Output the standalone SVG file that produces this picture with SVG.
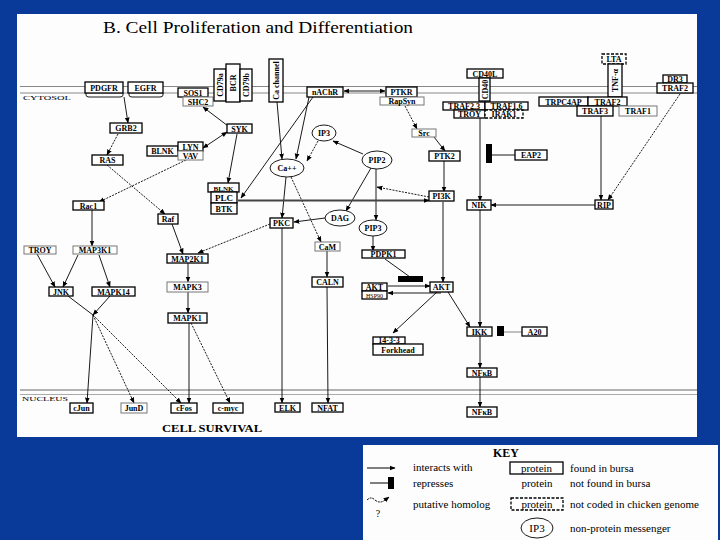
<svg xmlns="http://www.w3.org/2000/svg" width="720" height="540" viewBox="0 0 720 540">
<defs>
<marker id="ah" viewBox="0 0 10 10" refX="9" refY="5" markerWidth="6" markerHeight="6" markerUnits="userSpaceOnUse" orient="auto-start-reverse"><path d="M0,1 L10,5 L0,9 z" fill="#000"/></marker>
<style>
.n rect{fill:#fff;stroke:#000;stroke-width:1.3}
.n ellipse{fill:#fff;stroke:#000;stroke-width:0.9}
.lt rect{stroke:#777;stroke-width:1}
.dsh rect{stroke-dasharray:3 1.5}
text{font-family:"Liberation Serif","Times New Roman",serif;fill:#000}
.t{font-size:8px;text-anchor:middle;font-weight:bold}
.s{font-size:6px;text-anchor:middle}
.k{font-size:11px}
#connectors line,#connectors path{stroke:#000;stroke-width:0.9;fill:none}
#connectors .a{marker-end:url(#ah)}
#connectors .b{marker-start:url(#ah);marker-end:url(#ah)}
#connectors .d{stroke-dasharray:2 1.2}
.bar{fill:#000}
</style>
</defs>
<rect x="0" y="0" width="720" height="540" fill="#0a3a99"/>
<rect x="17" y="14" width="680" height="423" fill="#fdfdfd"/>
<text x="103" y="33" font-size="17" textLength="310" lengthAdjust="spacingAndGlyphs">B. Cell Proliferation and Differentiation</text>
<g id="membranes" stroke="#888" stroke-width="1">
<line x1="20" y1="86.5" x2="697" y2="86.5"/>
<line x1="20" y1="93" x2="697" y2="93"/>
<line x1="20" y1="390" x2="697" y2="390" stroke="#666"/>
<line x1="20" y1="394.5" x2="697" y2="394.5" stroke="#aaa"/>
</g>
<text x="23" y="100" font-size="7" textLength="48" lengthAdjust="spacingAndGlyphs">CYTOSOL</text>
<text x="22" y="401" font-size="7" textLength="46" lengthAdjust="spacingAndGlyphs">NUCLEUS</text>
<text x="162" y="432" font-size="10" font-weight="bold" textLength="100" lengthAdjust="spacingAndGlyphs">CELL SURVIVAL</text>

<g id="connectors">
<path d="M86,93 v2 q0,2 3,2 h31 q3,0 3,-2 v-2 M129,93 v2 q0,2 3,2 h28 q3,0 3,-2 v-2"/>
<line class="a" x1="124" y1="97" x2="128" y2="123"/>
<line class="a d" x1="118" y1="134" x2="107" y2="155"/>
<line class="a" x1="228" y1="126" x2="203" y2="107"/>
<line class="b" x1="203" y1="148" x2="227" y2="132"/>
<line class="a" x1="237" y1="134" x2="228" y2="183"/>
<line class="a d" x1="186" y1="160" x2="99" y2="202"/>
<line class="a d" x1="107" y1="165" x2="165" y2="214"/>
<line class="a" x1="92" y1="210" x2="92" y2="246"/>
<line class="a" x1="172" y1="224" x2="183" y2="254"/>
<line class="a d" x1="270" y1="224" x2="198" y2="253"/>
<line class="a" x1="37" y1="254" x2="55" y2="287"/>
<line class="a" x1="78" y1="255" x2="63" y2="287"/>
<line class="a" x1="99" y1="255" x2="110" y2="287"/>
<line class="a" x1="188" y1="263" x2="188" y2="282"/>
<line class="a" x1="188" y1="292" x2="188" y2="313"/>
<line x1="68" y1="296" x2="93" y2="315"/>
<line class="a" x1="110" y1="296" x2="93" y2="315"/>
<line class="a" x1="93" y1="315" x2="87" y2="403"/>
<line class="a d" x1="93" y1="315" x2="134" y2="403"/>
<line class="a d" x1="93" y1="315" x2="181" y2="403"/>
<line class="a" x1="189" y1="323" x2="189" y2="403"/>
<line class="a d" x1="191" y1="323" x2="230" y2="403"/>
<line class="a" x1="282" y1="228" x2="282" y2="403"/>
<line class="a" x1="327" y1="287" x2="328" y2="403"/>
<line class="a" x1="327" y1="251" x2="327" y2="277"/>
<line class="a" x1="286" y1="177" x2="282" y2="218"/>
<line class="a d" x1="291" y1="177" x2="321" y2="242"/>
<line class="a" x1="325" y1="218" x2="294" y2="222"/>
<line class="a" x1="371" y1="168" x2="346" y2="211"/>
<line class="a" x1="376" y1="169" x2="376" y2="220"/>
<line class="a" x1="373" y1="236" x2="373" y2="251"/>
<line class="a" x1="363" y1="154" x2="333" y2="141"/>
<line class="a d" x1="318" y1="141" x2="307" y2="161"/>
<line class="a d" x1="429" y1="197" x2="377" y2="187"/>
<line class="a" x1="277" y1="102" x2="282" y2="159"/>
<line class="a" x1="309" y1="97" x2="296" y2="159"/>
<line class="a" x1="313" y1="97" x2="241" y2="198"/>
<line class="a" x1="238" y1="200.5" x2="429" y2="200.5" style="stroke-width:2;stroke:#444"/>
<line class="b" x1="344" y1="91" x2="385" y2="91"/>
<line class="a d" x1="405" y1="106" x2="417" y2="129"/>
<line class="a" x1="434" y1="137" x2="445" y2="151"/>
<line class="a" x1="444" y1="161" x2="444" y2="192"/>
<line class="a" x1="443" y1="202" x2="443" y2="282"/>
<line class="a" x1="480" y1="118" x2="480" y2="201"/>
<line class="a" x1="595" y1="205" x2="491" y2="205"/>
<line class="a" x1="601" y1="116" x2="601" y2="200"/>
<line class="a d" x1="680" y1="94" x2="608" y2="200"/>
<line x1="515" y1="155" x2="492" y2="155"/>
<rect class="bar" x="486" y="144" width="6" height="19"/>
<line class="a" x1="437" y1="292" x2="393" y2="333"/>
<line class="a" x1="448" y1="292" x2="470" y2="327"/>
<line class="a" x1="480" y1="210" x2="480" y2="327"/>
<line class="a" x1="480" y1="336" x2="480" y2="368"/>
<line class="a" x1="480" y1="377" x2="480" y2="407"/>
<line x1="504" y1="332" x2="522" y2="332" style="stroke:#777"/>
<rect class="bar" x="497" y="326" width="7" height="10"/>
<line x1="385" y1="259" x2="410" y2="277"/>
<rect class="bar" x="398" y="276" width="25" height="6"/>
<line class="a" x1="388" y1="286" x2="430" y2="286"/>
<line class="a" x1="441" y1="293" x2="388" y2="293"/>
</g>

<g id="PDGFR" class="n"><rect x="85" y="82" width="38" height="11"/><text class="t" x="104" y="90.5">PDGFR</text></g>
<g id="EGFR" class="n"><rect x="128" y="82" width="35" height="11"/><text class="t" x="145.5" y="90.5">EGFR</text></g>
<g id="SOS1" class="n"><rect x="178" y="88" width="30" height="9"/><text class="t" x="193" y="95.5">SOS1</text></g>
<g id="SHC2" class="n lt"><rect x="183" y="97" width="30" height="9"/><text class="t" x="198" y="104.5">SHC2</text></g>
<g id="CD79a" class="n"><rect x="214" y="69" width="12" height="32"/><text class="t" transform="translate(223,85) rotate(-90)">CD79a</text></g>
<g id="BCR" class="n"><rect x="226" y="64" width="14" height="38"/><text class="t" transform="translate(236,83) rotate(-90)">BCR</text></g>
<g id="CD79b" class="n"><rect x="240" y="69" width="12" height="32"/><text class="t" transform="translate(249,85) rotate(-90)">CD79b</text></g>
<g id="Cachannel" class="n"><rect x="269" y="59" width="14" height="43"/><text class="t" transform="translate(279,80.5) rotate(-90)">Ca channel</text></g>
<g id="nAChR" class="n"><rect x="307" y="87" width="36" height="10"/><text class="t" x="325" y="95">nAChR</text></g>
<g id="PTKR" class="n"><rect x="386" y="87" width="31" height="10"/><text class="t" x="401.5" y="95">PTKR</text></g>
<g id="RapSyn" class="n lt"><rect x="380" y="97" width="44" height="8"/><text class="t" x="402" y="104">RapSyn</text></g>
<g id="CD40L" class="n"><rect x="467" y="69" width="36" height="9"/><text class="t" x="485" y="76.5">CD40L</text></g>
<g id="CD40" class="n"><rect x="479" y="78" width="11" height="23"/><text class="t" transform="translate(487.5,89.5) rotate(-90)">CD40</text></g>
<g id="TRAF23" class="n"><rect x="443" y="102" width="42" height="8"/><text class="t" x="464" y="108.5">TRAF2,3</text></g>
<g id="TRAF16" class="n"><rect x="485" y="102" width="43" height="8"/><text class="t" x="506.5" y="108.5">TRAF1,6</text></g>
<g id="TROY1" class="n"><rect x="454" y="110" width="31" height="8"/><text class="t" x="469.5" y="116.5">TROY</text></g>
<g id="IRAK1" class="n dsh"><rect x="485" y="110" width="38" height="8"/><text class="t" x="504" y="116.5">IRAK1</text></g>
<g id="LTA" class="n dsh"><rect x="602" y="54" width="24" height="10"/><text class="t" x="614" y="62">LTA</text></g>
<g id="TNFa" class="n"><rect x="608" y="64" width="14" height="33"/><text class="t" transform="translate(618,80.5) rotate(-90)">TNF-α</text></g>
<g id="DR3" class="n"><rect x="663" y="75" width="24" height="8"/><text class="t" x="675" y="81.5">DR3</text></g>
<g id="TRAF2b" class="n"><rect x="657" y="83" width="36" height="10"/><text class="t" x="675" y="91">TRAF2</text></g>
<g id="TRPC4AP" class="n"><rect x="539" y="97" width="49" height="9"/><text class="t" x="563.5" y="104.5">TRPC4AP</text></g>
<g id="TRAF2a" class="n"><rect x="588" y="97" width="39" height="9"/><text class="t" x="607.5" y="104.5">TRAF2</text></g>
<g id="TRAF3" class="n"><rect x="577" y="106" width="36" height="10"/><text class="t" x="595" y="114">TRAF3</text></g>
<g id="TRAF1" class="n lt"><rect x="619" y="106" width="38" height="10"/><text class="t" x="638" y="114">TRAF1</text></g>

<g id="GRB2" class="n"><rect x="110" y="123" width="32" height="10"/><text class="t" x="126" y="131">GRB2</text></g>
<g id="SYK" class="n"><rect x="227" y="124" width="25" height="9"/><text class="t" x="239.5" y="131.5">SYK</text></g>
<g id="BLNK1" class="n"><rect x="147" y="146" width="31" height="10"/><text class="t" x="162.5" y="154">BLNK</text></g>
<g id="LYN" class="n"><rect x="178" y="142" width="25" height="9"/><text class="t" x="190.5" y="149.5">LYN</text></g>
<g id="VAV" class="n lt"><rect x="178" y="151" width="25" height="9"/><text class="t" x="190.5" y="158.5">VAV</text></g>
<g id="IP3" class="n"><ellipse cx="324" cy="133" rx="12" ry="8"/><text class="t" x="324" y="136">IP3</text></g>
<g id="Src" class="n lt"><rect x="412" y="129" width="24" height="8"/><text class="t" x="424" y="135.5">Src</text></g>
<g id="PTK2" class="n"><rect x="429" y="151" width="31" height="10"/><text class="t" x="444.5" y="159">PTK2</text></g>
<g id="EAP2" class="n"><rect x="515" y="150" width="32" height="10"/><text class="t" x="531" y="158">EAP2</text></g>
<g id="PIP2" class="n"><ellipse cx="377" cy="160" rx="15" ry="9"/><text class="t" x="377" y="163">PIP2</text></g>
<g id="Ca" class="n"><ellipse cx="287" cy="168" rx="17" ry="9"/><text class="t" x="287" y="171">Ca++</text></g>
<g id="RAS" class="n"><rect x="92" y="155" width="31" height="10"/><text class="t" x="107.5" y="163">RAS</text></g>
<g id="BLNK2" class="n"><rect x="208" y="183" width="31" height="9"/><text class="t" x="223.5" y="190.5" style="font-size:7px">BLNK</text></g>
<g id="PLC" class="n"><rect x="211" y="192" width="26" height="11"/><text class="t" x="224" y="200.5" style="font-size:9px">PLC</text></g>
<g id="BTK" class="n"><rect x="211" y="203" width="26" height="11"/><text class="t" x="224" y="211.5">BTK</text></g>
<g id="PI3K" class="n"><rect x="429" y="191" width="25" height="10"/><text class="t" x="441.5" y="199">PI3K</text></g>
<g id="NIK" class="n"><rect x="467" y="200" width="24" height="10"/><text class="t" x="479" y="208">NIK</text></g>
<g id="RIP" class="n"><rect x="595" y="200" width="18" height="9"/><text class="t" x="604" y="207.5">RIP</text></g>
<g id="Rac1" class="n"><rect x="73" y="201" width="31" height="9"/><text class="t" x="88.5" y="208.5">Rac1</text></g>
<g id="Raf" class="n"><rect x="158" y="214" width="20" height="10"/><text class="t" x="168" y="222">Raf</text></g>
<g id="PKC" class="n"><rect x="270" y="218" width="23" height="10"/><text class="t" x="281.5" y="226">PKC</text></g>
<g id="DAG" class="n"><ellipse cx="340" cy="218" rx="15" ry="8"/><text class="t" x="340" y="221">DAG</text></g>
<g id="PIP3" class="n"><ellipse cx="373" cy="228" rx="14" ry="8"/><text class="t" x="373" y="231">PIP3</text></g>
<g id="CaM" class="n lt"><rect x="315" y="242" width="25" height="9"/><text class="t" x="327.5" y="249.5">CaM</text></g>
<g id="TROY2" class="n lt"><rect x="24" y="246" width="32" height="8"/><text class="t" x="40" y="252.5">TROY</text></g>
<g id="MAP3K1" class="n lt"><rect x="73" y="246" width="44" height="8"/><text class="t" x="95" y="252.5">MAP3K1</text></g>
<g id="MAP2K1" class="n"><rect x="167" y="254" width="41" height="9"/><text class="t" x="187.5" y="261.5">MAP2K1</text></g>
<g id="PDPK1" class="n"><rect x="362" y="250" width="43" height="8"/><text class="t" x="383.5" y="256.5">PDPK1</text></g>
<g id="CALN" class="n"><rect x="312" y="277" width="31" height="10"/><text class="t" x="327.5" y="285">CALN</text></g>
<g id="AKT1" class="n"><rect x="362" y="283" width="25" height="8"/><text class="t" x="374.5" y="289.5">AKT</text></g>
<g id="HSP90" class="n"><rect x="362" y="291" width="25" height="8"/><text class="s" x="374.5" y="297.5">HSP90</text></g>
<g id="AKT2" class="n"><rect x="430" y="282" width="23" height="10"/><text class="t" x="441.5" y="290">AKT</text></g>
<g id="MAPK3" class="n lt"><rect x="167" y="282" width="41" height="10"/><text class="t" x="187.5" y="290">MAPK3</text></g>
<g id="JNK" class="n"><rect x="49" y="287" width="24" height="9"/><text class="t" x="61" y="294.5">JNK</text></g>
<g id="MAPK14" class="n"><rect x="92" y="287" width="43" height="9"/><text class="t" x="113.5" y="294.5">MAPK14</text></g>
<g id="MAPK1" class="n"><rect x="168" y="313" width="39" height="10"/><text class="t" x="187.5" y="321">MAPK1</text></g>
<g id="IKK" class="n"><rect x="467" y="327" width="25" height="9"/><text class="t" x="479.5" y="334.5">IKK</text></g>
<g id="A20" class="n"><rect x="522" y="327" width="25" height="9"/><text class="t" x="534.5" y="334.5">A20</text></g>
<g id="p1433" class="n"><rect x="373" y="337" width="32" height="7"/><text class="t" x="389" y="343">14-3-3</text></g>
<g id="Forkhead" class="n"><rect x="373" y="344" width="50" height="11"/><text class="t" x="398" y="352.5">Forkhead</text></g>
<g id="NFkB1" class="n"><rect x="467" y="368" width="30" height="9"/><text class="t" x="482" y="375.5">NFκB</text></g>
<g id="NFkB2" class="n"><rect x="467" y="407" width="30" height="10"/><text class="t" x="482" y="415">NFκB</text></g>
<g id="cJun" class="n"><rect x="70" y="403" width="23" height="10"/><text class="t" x="81.5" y="411">cJun</text></g>
<g id="JunD" class="n lt"><rect x="121" y="403" width="26" height="10"/><text class="t" x="134" y="411">JunD</text></g>
<g id="cFos" class="n"><rect x="171" y="403" width="26" height="10"/><text class="t" x="184" y="411">cFos</text></g>
<g id="cmyc" class="n"><rect x="213" y="403" width="30" height="10"/><text class="t" x="228" y="411">c-myc</text></g>
<g id="ELK" class="n"><rect x="275" y="403" width="25" height="9"/><text class="t" x="287.5" y="410.5">ELK</text></g>
<g id="NFAT" class="n"><rect x="312" y="403" width="31" height="9"/><text class="t" x="327.5" y="410.5">NFAT</text></g>

<g id="key">
<rect x="363" y="445" width="355" height="95" fill="#fdfdfd"/>
<text x="506" y="457" font-size="12" font-weight="bold" text-anchor="middle">KEY</text>
<line x1="367" y1="468" x2="395" y2="468" stroke="#000" stroke-width="1" marker-end="url(#ah)"/>
<text class="k" x="413" y="471">interacts with</text>
<g class="n"><rect x="510" y="462" width="53" height="12"/><text class="k" x="536.5" y="471.5" text-anchor="middle">protein</text></g>
<text class="k" x="570" y="471.5">found in bursa</text>
<line x1="370" y1="483" x2="389" y2="483" stroke="#000" stroke-width="1"/>
<rect class="bar" x="388" y="477" width="6" height="12"/>
<text class="k" x="413" y="486.5">represses</text>
<text class="k" x="537" y="486.5" text-anchor="middle">protein</text>
<text class="k" x="570" y="486.5">not found in bursa</text>
<path d="M367,500 q4,-4 8,0 q5,4 10,0 l4,-3" stroke="#000" stroke-width="1" fill="none" stroke-dasharray="2 1" marker-end="url(#ah)"/>
<text x="378" y="517" font-size="10" text-anchor="middle">?</text>
<text class="k" x="413" y="507.5">putative homolog</text>
<g class="n dsh"><rect x="511" y="498" width="52" height="12"/><text class="k" x="537" y="507.5" text-anchor="middle">protein</text></g>
<text class="k" x="570" y="507.5">not coded in chicken genome</text>
<g class="n"><ellipse cx="537" cy="528" rx="16" ry="10"/><text class="k" x="537" y="531.5" text-anchor="middle">IP3</text></g>
<text class="k" x="570" y="531.5">non-protein messenger</text>
</g>
</svg>
